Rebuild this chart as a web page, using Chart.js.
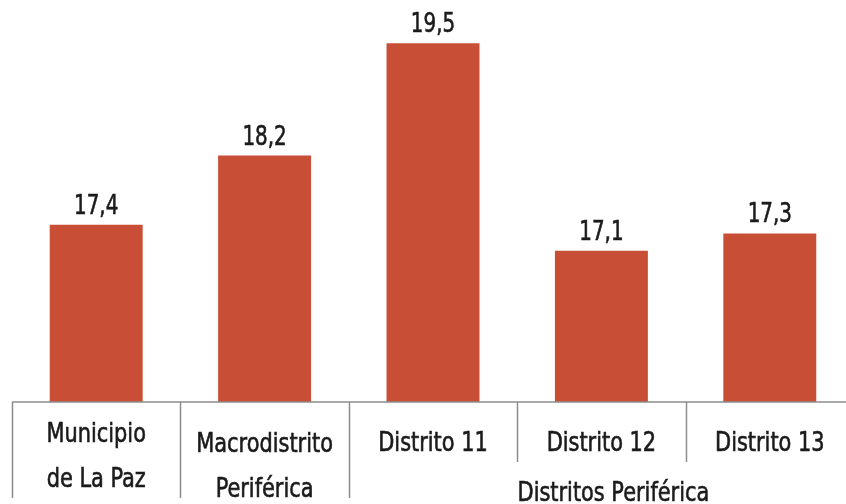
<!DOCTYPE html>
<html lang="es">
<head>
<meta charset="utf-8">
<script src="https://cdn.jsdelivr.net/npm/chart.js@4/dist/chart.umd.min.js"></script>
<style>
    body {margin:0; background:#fff}
    .reportGraph {width:846px; height:504px; overflow:hidden}
</style>
</head>
<body>

<div class="reportGraph"><canvas id="canvas" width="866" height="504"></canvas></div>

<script type="text/javascript">
'use strict';

var categories = [["Municipio", "de La Paz"], ["Macrodistrito", "Periférica"], ["Distrito 11"], ["Distrito 12"], ["Distrito 13"]];
var values = [17.4, 18.2, 19.5, 17.1, 17.3];
var groupLabel = "Distritos Periférica";
var groupStart = 2; // first category that belongs to the group

var FONT = '"Liberation Sans Narrow", "DejaVu Sans Condensed", "Liberation Sans", sans-serif';
var TEXT = '#1b1b1b';
var AXIS = '#8c8c8c';

function fmt(v) {
    return v.toFixed(1).replace('.', ',');
}

// squeeze text a little horizontally, the original font is narrower
function narrowText(ctx, str, x, y, sx) {
    ctx.save();
    ctx.translate(x, y);
    ctx.scale(sx, 1);
    ctx.fillText(str, 0, 0);
    ctx.lineWidth = 0.6;
    ctx.strokeStyle = TEXT;
    ctx.strokeText(str, 0, 0);
    ctx.restore();
}

// value labels, category axis with separators and the group label
var decorations = {
    id: 'decorations',
    afterDatasetsDraw: function(chart) {
        var ctx = chart.ctx;
        var x = chart.scales.x;
        var area = chart.chartArea;
        var meta = chart.getDatasetMeta(0);
        var half = (x.getPixelForValue(1) - x.getPixelForValue(0)) / 2;

        ctx.save();
        ctx.fillStyle = TEXT;
        ctx.textAlign = 'center';
        ctx.textBaseline = 'alphabetic';
        ctx.font = '27px ' + FONT;
        meta.data.forEach(function(bar, i) {
            narrowText(ctx, fmt(values[i]), bar.x, bar.y - 11, 0.82);
        });

        // baseline
        ctx.strokeStyle = AXIS;
        ctx.lineWidth = 1.5;
        ctx.beginPath();
        ctx.moveTo(area.left, area.bottom);
        ctx.lineTo(area.right, area.bottom);
        ctx.stroke();

        // separators: long ones outside the group, short ones inside it
        for (var i = 0; i <= categories.length; i++) {
            var sx = Math.round(x.getPixelForValue(i) - half) + 0.5;
            var inGroup = i > groupStart && i < categories.length;
            ctx.beginPath();
            ctx.moveTo(sx, area.bottom);
            ctx.lineTo(sx, area.bottom + (inGroup ? 60 : 96));
            ctx.stroke();
        }

        // category labels
        categories.forEach(function(lines, i) {
            var cx = x.getPixelForValue(i);
            var y0 = lines.length > 1 ? (i === 0 ? 442 : 452) : 451;
            lines.forEach(function(line, k) {
                narrowText(ctx, line, cx, y0 + k * 45, 0.86);
            });
        });

        // group label
        var gx = (x.getPixelForValue(groupStart) + x.getPixelForValue(categories.length - 1)) / 2 + 12;
        narrowText(ctx, groupLabel, gx, 501, 0.86);
        ctx.restore();
    }
};

function drawGraphs() {
    new Chart(
        document.getElementById("canvas"), {
            type: "bar",
            data: {
                labels: categories,
                datasets: [{
                    data: values,
                    backgroundColor: "#C84F35",
                    borderWidth: 0,
                    categoryPercentage: 1,
                    barPercentage: 0.552
                }]
            },
            options: {
                responsive: false,
                animation: false,
                layout: {padding: {left: 12, right: 12, top: 0, bottom: 102}},
                plugins: {legend: {display: false}, tooltip: {enabled: false}},
                scales: {
                    x: {display: false},
                    y: {display: false, min: 15.35, max: 20}
                }
            },
            plugins: [decorations]
        }
    );
}
window.onload = function() {
    drawGraphs();
};
</script>
</body>
</html>
